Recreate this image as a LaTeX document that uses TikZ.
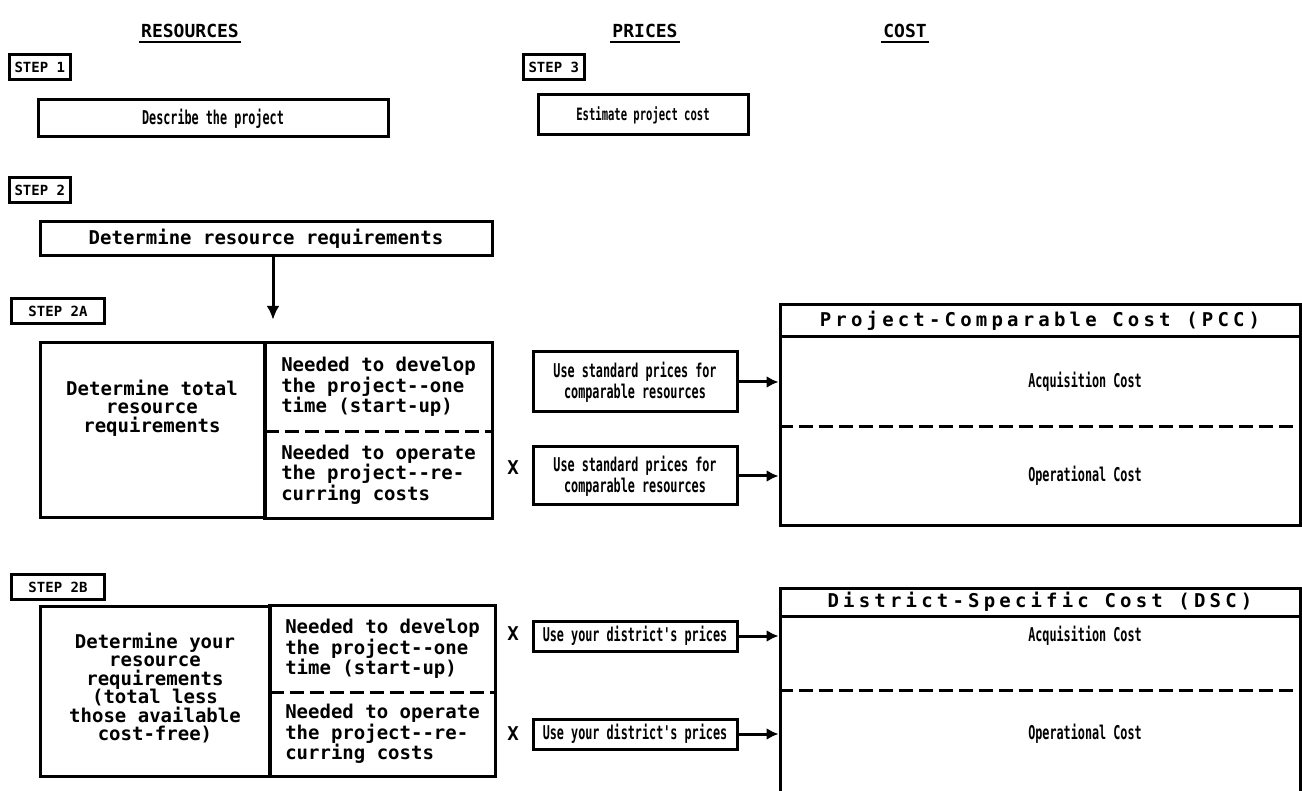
\documentclass[tikz,border=0pt]{standalone}
\usepackage{fontspec}
\setmonofont{DejaVu Sans Mono}
\newfontfamily\narrowtype{DejaVu Sans Mono}[FakeStretch=0.62]
\newfontfamily\widetype{DejaVu Sans Mono}[LetterSpace=22]
\usetikzlibrary{arrows.meta,calc}
\tikzstyle{typed}=[font=\ttfamily\bfseries\fontsize{19}{20.5}\selectfont]
\tikzstyle{tightlines}=[font=\ttfamily\bfseries\fontsize{19}{18.5}\selectfont]
\tikzstyle{narrow}=[font=\narrowtype\bfseries\fontsize{19}{21}\selectfont]
\tikzstyle{heading}=[font=\ttfamily\bfseries\fontsize{18}{20}\selectfont, inner sep=2pt]
\tikzstyle{steptag}=[draw, line width=3pt, anchor=west, inner xsep=5pt, inner ysep=7pt,
  font=\ttfamily\bfseries\fontsize{14}{16}\selectfont]
\tikzstyle{linebox}=[draw, line width=3pt]
\tikzstyle{pricebox}=[linebox, narrow, align=center, inner sep=0pt]
\tikzstyle{needcell}=[typed, align=left, inner sep=0pt]
\tikzstyle{costhead}=[linebox, inner sep=0pt, font=\widetype\bfseries\fontsize{19}{20}\selectfont]
\tikzstyle{dashsep}=[line width=3pt, dash pattern=on 14pt off 6pt]
\tikzstyle{feed}=[line width=3pt, -{Latex[length=12pt,width=12pt]}]
\tikzstyle{uline}=[line width=2.5pt]

\begin{document}
\begin{tikzpicture}[x=1pt,y=-1pt]
\clip (0,0) rectangle (1302,791);

% column heads
\node[heading] (hres) at (190,31) {RESOURCES};
\node[heading] (hpri) at (645,31) {PRICES};
\node[heading] (hcost) at (905,31) {COST};
\foreach \h in {hres,hpri,hcost}
  \draw[uline] ([yshift=-2pt]\h.south west) -- ([yshift=-2pt]\h.south east);

% step 1 and step 3
\node[steptag] (st1) at (8,67) {STEP 1};
\node[pricebox, minimum width=350pt, minimum height=37pt] (describe) at (213,118.5) {Describe the project};
\node[steptag] (st3) at (522,67) {STEP 3};
\node[pricebox, minimum width=210pt, minimum height=40pt, font=\narrowtype\bfseries\fontsize{17}{19}\selectfont] (estimate) at (643,115) {Estimate project cost};

% step 2
\node[steptag] (st2) at (8,190) {STEP 2};
\node[linebox, typed, inner sep=0pt, minimum width=452pt, minimum height=34pt] (detreq) at (266,239) {Determine resource requirements};

% step 2A
\node[steptag, minimum width=93pt] (st2a) at (10,311) {STEP 2A};
\node[linebox, minimum width=225pt, minimum height=175pt] (a2tot) at (152.5,430.5) {};
\node[tightlines, align=center] (a2tottxt) at (152,408) {Determine total\\resource\\requirements};
\node[needcell, minimum width=227pt, minimum height=88pt] (a2dev) at (378.5,387) {Needed to develop\\the project-{}-one\\time (start-up)};
\node[needcell, minimum width=227pt, minimum height=87pt] (a2op) at (378.5,474.5) {Needed to operate\\the project-{}-re-\\curring costs};
\draw[linebox] (a2dev.north west) rectangle (a2op.south east);
\draw[dashsep] (a2dev.south west) -- (a2dev.south east);
\draw[line width=3pt, -{Latex[length=14pt,width=13pt]}, shorten >=23pt]
  ([xshift=7pt]detreq.south) -- ([xshift=7pt]detreq.south |- a2dev.north);

\node[pricebox, minimum width=204pt, minimum height=60pt] (p2acq) at (635,382) {Use standard prices for\\comparable resources};
\node[pricebox, minimum width=204pt, minimum height=58pt] (p2op) at (635,476) {Use standard prices for\\comparable resources};
\node[typed] (x2op) at (513,468) {X};

\node[linebox, minimum width=520pt, minimum height=220pt] (pcc) at (1040,415) {};
\node[costhead, minimum width=520pt, minimum height=32pt, anchor=north] (pcchead) at (pcc.north) {Project-Comparable Cost (PCC)};
\node[narrow] (pccacq) at (1085,0 |- p2acq) {Acquisition Cost};
\node[narrow] (pccop) at (1085,0 |- p2op) {Operational Cost};
\draw[dashsep] (pcc.west |- 0,427) -- (pcc.east |- 0,427);
\draw[feed] (p2acq) -- (p2acq -| pcc.west);
\draw[feed] (p2op) -- (p2op -| pcc.west);

% step 2B
\node[steptag, minimum width=93pt] (st2b) at (10,587) {STEP 2B};
\node[linebox, minimum width=230pt, minimum height=170pt] (b2tot) at (155,691) {};
\node[tightlines, align=center] (b2tottxt) at (155,688) {Determine your\\resource\\requirements\\(total less\\those available\\cost-free)};
\node[needcell, minimum width=225pt, minimum height=86pt] (b2dev) at (382.5,649) {Needed to develop\\the project-{}-one\\time (start-up)};
\node[needcell, minimum width=225pt, minimum height=84pt] (b2op) at (382.5,734) {Needed to operate\\the project-{}-re-\\curring costs};
\draw[linebox] (b2dev.north west) rectangle (b2op.south east);
\draw[dashsep] (b2dev.south west) -- (b2dev.south east);

\node[pricebox, minimum width=204pt, minimum height=30pt] (p2bacq) at (635,636) {Use your district's prices};
\node[pricebox, minimum width=204pt, minimum height=30pt] (p2bop) at (635,734) {Use your district's prices};
\node[typed] (x2bacq) at (513,634) {X};
\node[typed] (x2bop) at (513,734) {X};

\node[linebox, minimum width=520pt, minimum height=232pt] (dsc) at (1040,704) {};
\node[costhead, minimum width=520pt, minimum height=28pt, anchor=north] (dschead) at (dsc.north) {District-Specific Cost (DSC)};
\node[narrow] (dscacq) at (1085,0 |- p2bacq) {Acquisition Cost};
\node[narrow] (dscop) at (1085,0 |- p2bop) {Operational Cost};
\draw[dashsep] (dsc.west |- 0,690) -- (dsc.east |- 0,690);
\draw[feed] (p2bacq) -- (p2bacq -| dsc.west);
\draw[feed] (p2bop) -- (p2bop -| dsc.west);
\end{tikzpicture}
\end{document}
